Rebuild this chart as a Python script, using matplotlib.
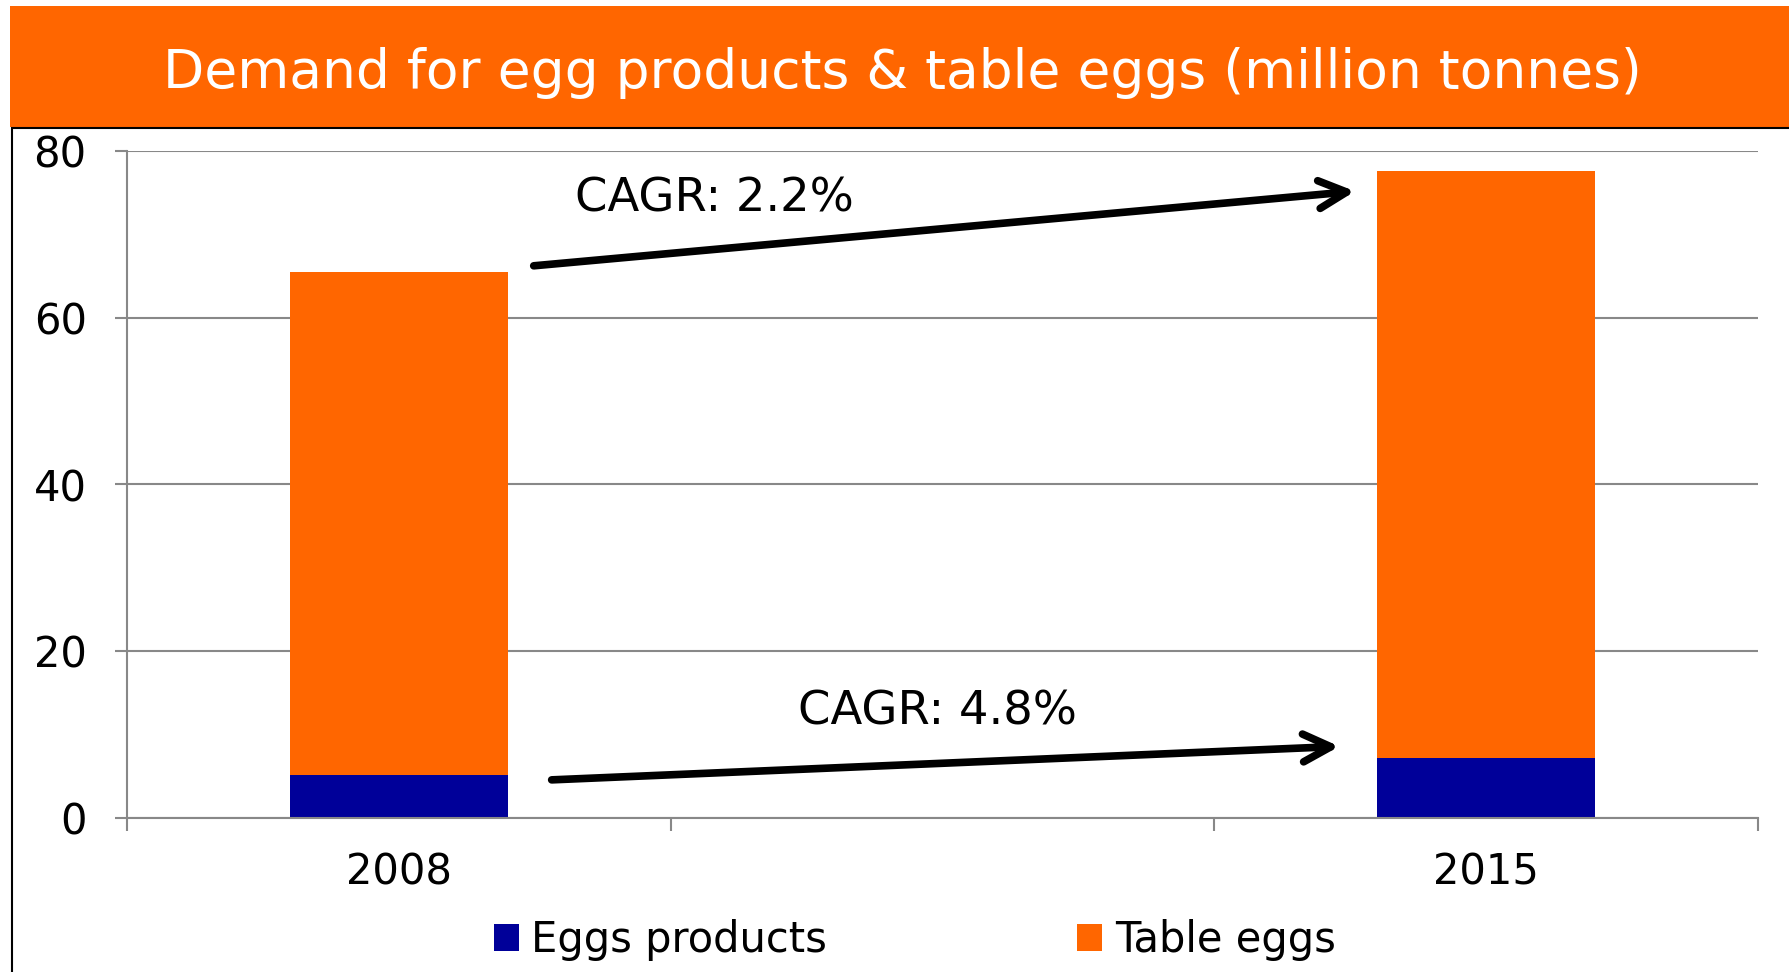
import matplotlib
matplotlib.use("Agg")
import matplotlib.pyplot as plt
from matplotlib.patches import Rectangle

plt.rcParams["font.family"] = ["DejaVu Sans"]

# data (million tonnes)
years = ["2008", "", "2015"]
egg_products = [5.1, 0, 7.2]
table_eggs = [60.4, 0, 70.4]
cagr_labels = ["CAGR: 2.2%", "CAGR: 4.8%"]

orange = "#FF6600"
blue = "#000099"
grey = "#888888"

fig = plt.figure(figsize=(17.9, 9.72), dpi=100)

# header band + chart frame
fig.patches.append(Rectangle((10 / 1790, 1 - 127 / 972), 1 - 10 / 1790, 121 / 972,
                             transform=fig.transFigure, facecolor=orange, edgecolor="none"))
fig.patches.append(Rectangle((12 / 1790, -0.01), 1.0, 1 - 128 / 972 + 0.01,
                             transform=fig.transFigure, facecolor="none", edgecolor="black", lw=1.5))
fig.text(0.504, 1 - 73 / 972, "Demand for egg products & table eggs (million tonnes)",
         color="white", fontsize=38.5, ha="center", va="center")

ax = fig.add_axes([127 / 1790, 1 - 818 / 972, 1631 / 1790, 667 / 972])
x = list(range(len(years)))
ax.bar(x, egg_products, width=0.4, color=blue, label="Eggs products")
ax.bar(x, table_eggs, width=0.4, bottom=egg_products, color=orange, label="Table eggs")

ax.set_xlim(-0.5, 2.5)
ax.set_ylim(0, 80)
ax.set_yticks([0, 20, 40, 60, 80])
ax.yaxis.grid(True, color=grey, lw=1.5)
ax.set_axisbelow(True)
ax.set_xticks([-0.5, 0.5, 1.5, 2.5])
ax.set_xticklabels([])
ax.set_xticks(x, minor=True)
ax.set_xticklabels(years, minor=True)
ax.tick_params(axis="x", which="minor", length=0, labelsize=30, pad=24)
ax.tick_params(axis="x", which="major", length=9, width=1.5, color=grey)
ax.tick_params(axis="y", length=9, width=1.5, color=grey, labelsize=30, pad=20)
for s in ["top", "right"]:
    ax.spines[s].set_visible(False)
for s in ["left", "bottom"]:
    ax.spines[s].set_color(grey)
    ax.spines[s].set_linewidth(1.5)

# growth arrows
arrow = dict(arrowstyle="->", lw=5.5, color="black", mutation_scale=50)
ax.annotate("", xy=(1.764, 75.2), xytext=(0.243, 66.2), arrowprops=arrow)
ax.annotate("", xy=(1.735, 8.6), xytext=(0.276, 4.56), arrowprops=arrow)
ax.text(0.58, 74.2, cagr_labels[0], fontsize=33.5, ha="center", va="center")
ax.text(0.99, 12.7, cagr_labels[1], fontsize=33.5, ha="center", va="center")

fig.legend(loc="center", bbox_to_anchor=(0.511, 1 - 940 / 972), ncol=2, frameon=False,
           fontsize=30, handlelength=0.6, handleheight=0.6, handletextpad=0.3,
           columnspacing=6.0)

fig.savefig("out.png", dpi=100)
